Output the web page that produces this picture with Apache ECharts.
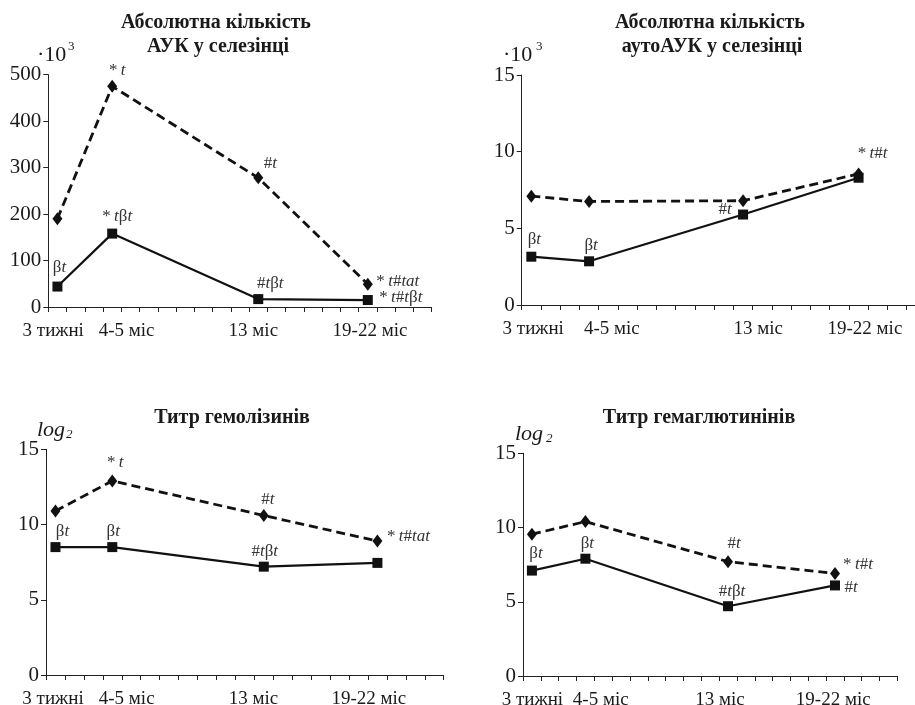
<!DOCTYPE html>
<html><head><meta charset="utf-8">
<script src="https://cdn.jsdelivr.net/npm/echarts@6/dist/echarts.min.js"></script>
<style>html,body{margin:0;padding:0;background:#fff}#c{width:915px;height:705px}</style>
</head><body><div id="c"></div>
<script>
// ---- data ----
const categories = ['3 тижні', '4-5 міс', '13 міс', '19-22 міс'];
const catSlots = [0.5, 3.5, 11.5, 17.5]; // slot centres on a 21-slot category scale

const titles = [
  ['Абсолютна кількість', 'АУК у селезінці'],
  ['Абсолютна кількість', 'аутоАУК у селезінці'],
  ['Титр гемолізинів'],
  ['Титр гемаглютинінів']
];
const unitLabels = ['·10', '·10', 'log', 'log'];
const unitSup = ['3', '3', '2', '2'];

const p1Dashed = [190, 475, 278, 49];
const p1Solid  = [44, 158, 17, 15];
const p2Dashed = [7.1, 6.75, 6.8, 8.55];
const p2Solid  = [3.15, 2.85, 5.9, 8.3];
const p3Dashed = [10.9, 12.9, 10.6, 8.9];
const p3Solid  = [8.5, 8.5, 7.2, 7.45];
const p4Dashed = [9.55, 10.4, 7.7, 6.9];
const p4Solid  = [7.1, 7.9, 4.7, 6.1];

const p1DashedNotes = ['', '*t', '#t', '*t#tat'];
const p1SolidNotes  = ['βt', '*tβt', '#tβt', '*t#tβt'];
const p2DashedNotes = ['', '', '', '*t#t'];
const p2SolidNotes  = ['βt', 'βt', '#t', ''];
const p3DashedNotes = ['', '*t', '#t', '*t#tat'];
const p3SolidNotes  = ['βt', 'βt', '#tβt', ''];
const p4DashedNotes = ['', '', '#t', '*t#t'];
const p4SolidNotes  = ['βt', 'βt', '#tβt', '#t'];

const yMaxes = [500, 15, 15, 15];
const yTicks = [100, 5, 5, 5];

// ---- layout / style ----
const FONT = '"Liberation Serif", "Times New Roman", serif';
const INK = '#1a1a1a';
const panels = [
  { grid: {left: 48.3, top: 74.7, width: 383.4, height: 232.3},
    labelPos: [0.27, 4.29, 11.23, 17.62],
    dashed: p1Dashed, solid: p1Solid, dNotes: p1DashedNotes, sNotes: p1SolidNotes,
    dOff: [[0,0],[5,-16],[12,-14],[30,-3]], sOff: [[2,-19],[5,-17],[12,-16],[33,-2]],
    title: [216, 23, 218, 47], unit: [37, 55, 68, 47] },
  { grid: {left: 521.7, top: 75, width: 404.25, height: 230},
    labelPos: [0.6, 4.68, 12.29, 17.83],
    dashed: p2Dashed, solid: p2Solid, dNotes: p2DashedNotes, sNotes: p2SolidNotes,
    dOff: [[0,0],[0,0],[0,0],[14,-20]], sOff: [[3,-17],[2,-16],[-18,-5],[0,0]],
    title: [710, 23, 712, 47], unit: [503, 55, 536, 47] },
  { grid: {left: 46, top: 449.3, width: 397.7, height: 225.7},
    labelPos: [0.37, 4.26, 10.95, 17.05],
    dashed: p3Dashed, solid: p3Solid, dNotes: p3DashedNotes, sNotes: p3SolidNotes,
    dOff: [[0,0],[3,-18],[4,-16],[31,-5]], sOff: [[7,-16],[1,-16],[1,-15],[0,0]],
    title: [232, 418], unit: [37, 430, 66, 435] },
  { grid: {left: 523, top: 453.3, width: 374.4, height: 222.7},
    labelPos: [0.53, 4.36, 11.05, 17.4],
    dashed: p4Dashed, solid: p4Solid, dNotes: p4DashedNotes, sNotes: p4SolidNotes,
    dOff: [[0,0],[0,0],[6,-18],[23,-9]], sOff: [[4,-17],[2,-15],[4,-15],[16,2]],
    title: [699, 418], unit: [515, 434, 546, 439] }
];

function richNote(s) {
  let out = '';
  for (const ch of s) {
    if (ch === 't' || ch === 'a') out += '{i|' + ch + '}';
    else if (ch === '*') out += '{n|*\u2009}';
    else out += '{n|' + ch + '}';
  }
  return out;
}
const noteRich = {
  n: {fontFamily: FONT, fontSize: 17, color: '#333'},
  i: {fontFamily: FONT, fontSize: 17, fontStyle: 'italic', color: '#333'}
};

function buildSeries(vals, notes, offs, gi, dashed) {
  const data = vals.map((v, k) => {
    const item = {value: [catSlots[k], v]};
    if (notes[k]) {
      item.label = {show: true, position: 'inside', offset: offs[k], formatter: richNote(notes[k]), rich: noteRich};
    }
    return item;
  });
  return {
    type: 'line', xAxisIndex: gi, yAxisIndex: gi, data,
    symbol: dashed ? 'diamond' : 'rect',
    symbolSize: dashed ? [10, 13] : 10,
    showAllSymbol: true,
    z: dashed ? 2 : 3,
    itemStyle: {color: '#111'},
    lineStyle: dashed ? {color: '#111', width: 2.8, type: [9, 5]} : {color: '#111', width: 2.2},
    label: {show: false, rich: noteRich},
    emphasis: {disabled: true},
    animation: false
  };
}

const grid = [], xAxis = [], yAxis = [], series = [], graphic = [];
panels.forEach((p, gi) => {
  grid.push(Object.assign({containLabel: false, outerBoundsMode: 'none'}, p.grid));
  xAxis.push({
    type: 'value', gridIndex: gi, min: 0, max: 21, interval: 1,
    axisLine: {show: true, onZero: false, lineStyle: {color: '#222', width: 1}},
    axisTick: {show: true, length: 5, lineStyle: {color: '#222'}},
    splitLine: {show: false},
    axisLabel: {
      customValues: p.labelPos,
      formatter: (v) => {
        let best = 0, bd = 1e9;
        p.labelPos.forEach((lp, k) => { const d = Math.abs(lp - v); if (d < bd) { bd = d; best = k; } });
        return categories[best];
      },
      fontFamily: FONT, fontSize: 19, color: INK, margin: 15, hideOverlap: false
    }
  });
  yAxis.push({
    type: 'value', gridIndex: gi, min: 0, max: yMaxes[gi], interval: yTicks[gi],
    axisLine: {show: true, lineStyle: {color: '#222', width: 1}},
    axisTick: {show: true, length: 5, lineStyle: {color: '#222'}},
    splitLine: {show: false},
    axisLabel: {fontFamily: FONT, fontSize: 21, color: INK, margin: 7}
  });
  series.push(buildSeries(p.dashed, p.dNotes, p.dOff, gi, true));
  series.push(buildSeries(p.solid, p.sNotes, p.sOff, gi, false));

  const t = titles[gi];
  t.forEach((line, k) => {
    graphic.push({type: 'text', x: p.title[k * 2], y: p.title[k * 2 + 1],
      style: {text: line, font: 'bold 20px ' + FONT, fill: INK, textAlign: 'center', textVerticalAlign: 'middle'}});
  });
  const isLog = unitLabels[gi] === 'log';
  graphic.push({type: 'text', x: p.unit[0], y: p.unit[1],
    style: {text: unitLabels[gi], font: (isLog ? 'italic ' : '') + '22px ' + FONT, fill: INK, textAlign: 'left', textVerticalAlign: 'middle'}});
  graphic.push({type: 'text', x: p.unit[2], y: p.unit[3],
    style: {text: unitSup[gi], font: (isLog ? 'italic ' : '') + '13px ' + FONT, fill: INK, textAlign: 'left', textVerticalAlign: 'middle'}});
});

const chart = echarts.init(document.getElementById('c'), null, {renderer: 'canvas'});
chart.setOption({animation: false, backgroundColor: '#fff', grid, xAxis, yAxis, series, graphic});
</script></body></html>
